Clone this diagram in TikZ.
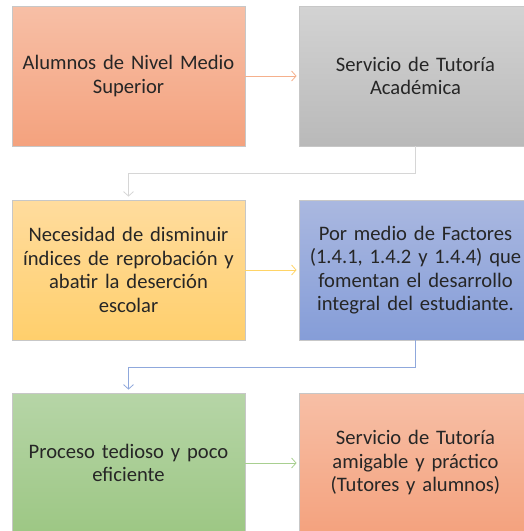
\documentclass[tikz,border=0pt]{standalone}
\usepackage{fontspec}
\setmainfont{Carlito}
\usetikzlibrary{arrows.meta,calc}
\definecolor{orTop}{HTML}{F7BFA6}
\definecolor{orBot}{HTML}{F4A27E}
\definecolor{grTop}{HTML}{D3D3D3}
\definecolor{grBot}{HTML}{B9B9B9}
\definecolor{yeTop}{HTML}{FFDC9E}
\definecolor{yeBot}{HTML}{FFCF6C}
\definecolor{blTop}{HTML}{AAB8E0}
\definecolor{blBot}{HTML}{859DD8}
\definecolor{gnTop}{HTML}{B6D5A7}
\definecolor{gnBot}{HTML}{9DC784}
\definecolor{lnOr}{HTML}{F5B08C}
\definecolor{lnGr}{HTML}{D6D6D6}
\definecolor{lnYe}{HTML}{FFD466}
\definecolor{lnBl}{HTML}{8FA8DC}
\definecolor{lnGn}{HTML}{A8CF90}
\tikzset{
  boxnode/.style={rectangle, draw=black!22, line width=0.8pt,
    minimum width=233pt, minimum height=140pt, text width=226pt,
    align=center, inner sep=0pt, text=black!85, font=\fontsize{20.6}{23.5}\selectfont},
  conn/.style={line width=0.9pt, -{Straight Barb[length=4.5pt,width=10pt,line width=0.8pt]}}
}
\begin{document}
\begin{tikzpicture}[x=1pt,y=-1pt]
\useasboundingbox (0,0) rectangle (524,531);
\clip (0,0) rectangle (524,531);
\node[boxnode, top color=orTop, bottom color=orBot] (a) at (128.5,76) {Alumnos de Nivel Medio\\Superior};
\node[boxnode, top color=grTop, bottom color=grBot] (b) at (415.5,76) {Servicio de Tutoría\\Académica};
\node[boxnode, top color=yeTop, bottom color=yeBot] (c) at (128.5,270) {Necesidad de disminuir\\índices de reprobación y\\abatir la deserción\\escolar};
\node[boxnode, top color=blTop, bottom color=blBot] (d) at (415.5,270) {Por medio de Factores\\(1.4.1, 1.4.2 y 1.4.4) que\\fomentan el desarrollo\\integral del estudiante.};
\node[boxnode, top color=gnTop, bottom color=gnBot] (e) at (128.5,463) {Proceso tedioso y poco\\eficiente};
\node[boxnode, top color=orTop, bottom color=orBot] (f) at (415.5,463) {Servicio de Tutoría\\amigable y práctico\\(Tutores y alumnos)};
\coordinate (bc) at (415.5,173.5);
\coordinate (de) at (415.5,367);
\draw[conn, lnOr, shorten >=2pt] (a.east) -- (b.west);
\draw[conn, lnGr, shorten >=3pt] (b.south) -- (bc) -| (c.north);
\draw[conn, lnYe, shorten >=2pt] (c.east) -- (d.west);
\draw[conn, lnBl, shorten >=3pt] (d.south) -- (de) -| (e.north);
\draw[conn, lnGn, shorten >=2pt] (e.east) -- (f.west);
\end{tikzpicture}
\end{document}
